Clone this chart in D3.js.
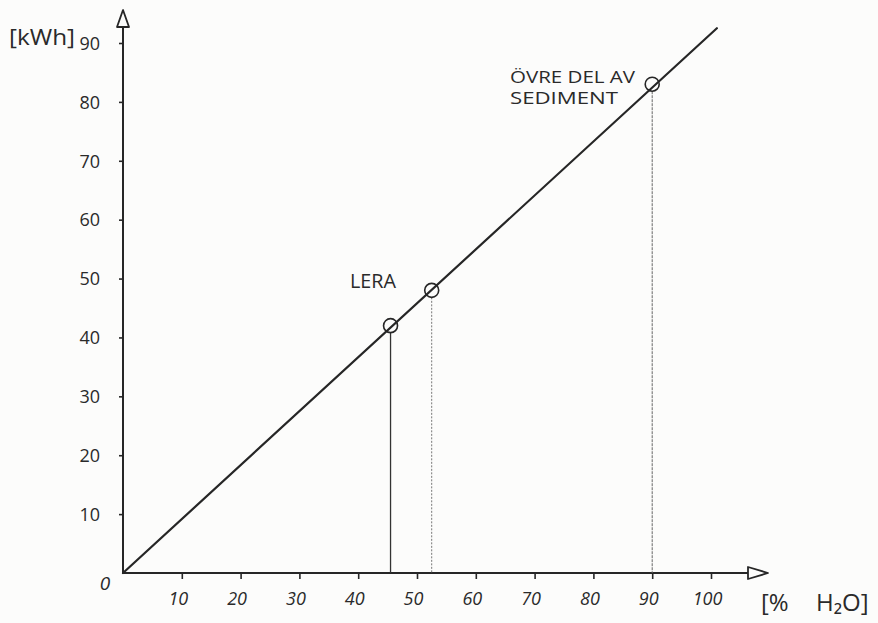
<!DOCTYPE html>
<html><head><meta charset="utf-8">
<script src="https://cdn.jsdelivr.net/npm/d3@7"></script>
<style>
html,body{margin:0;padding:0;background:#fcfcfb;}
svg{display:block;}
text{font-family:"Open Sans","DejaVu Sans",sans-serif;fill:#2a2a2a;}
</style></head>
<body>
<script>
// Data
const xTicks = [10,20,30,40,50,60,70,80,90,100];
const yTicks = [10,20,30,40,50,60,70,80,90];
const lineX = [0, 101];
const lineY = [0, 92.5];
const pointX = [45.5, 52.5, 90];
const pointY = [42, 48, 83];
const dropStyle = ["solid", "dotted", "thin"];
const pointLabels = [["LERA"], [], ["ÖVRE DEL AV", "SEDIMENT"]];
const xAxisTitle = ["[%", "H₂O]"];
const yAxisTitle = "[kWh]";

const W = 878, H = 623;
const svg = d3.select("body").append("svg").attr("width", W).attr("height", H);

const x = d3.scaleLinear().domain([0,100]).range([123, 711]);
const y = d3.scaleLinear().domain([0,90]).range([573, 43]);
const ink = "#262626";

// Y axis ticks
const yAxis = d3.axisLeft(y).tickValues(yTicks).tickSize(4).tickPadding(19).tickFormat(d3.format("d"));
const gy = svg.append("g").attr("transform", `translate(${x(0)},0)`).call(yAxis);
gy.select(".domain").remove();
gy.selectAll(".tick line").attr("stroke", ink).attr("stroke-width", 1.6);
gy.selectAll(".tick text").style("font-size","18px").attr("fill", ink).attr("dy","0.35em");

// X axis ticks
const xAxis = d3.axisBottom(x).tickValues(xTicks).tickSize(6).tickPadding(13).tickFormat(d3.format("d"));
const gx = svg.append("g").attr("transform", `translate(0,${y(0)})`).call(xAxis);
gx.select(".domain").remove();
gx.selectAll(".tick line").attr("stroke", ink).attr("stroke-width", 1.6);
gx.selectAll(".tick text").style("font-size","18px").style("font-style","italic").attr("fill", ink).attr("dx","-4");

// Axis lines with open arrows
svg.append("line").attr("x1", x(0)).attr("y1", y(0)+1).attr("x2", x(0)).attr("y2", 27)
  .attr("stroke", ink).attr("stroke-width", 2);
svg.append("path").attr("d", `M${x(0)},10 L${x(0)-6},27 L${x(0)+6},27 Z`)
  .attr("fill","none").attr("stroke", ink).attr("stroke-width", 1.8).attr("stroke-linejoin","round");
svg.append("line").attr("x1", x(0)-1).attr("y1", y(0)).attr("x2", 748).attr("y2", y(0))
  .attr("stroke", ink).attr("stroke-width", 2.2);
svg.append("path").attr("d", `M768,${y(0)} L748,${y(0)-6} L748,${y(0)+6} Z`)
  .attr("fill","none").attr("stroke", ink).attr("stroke-width", 1.8).attr("stroke-linejoin","round");

// Origin label
svg.append("text").attr("x", x(0)-18).attr("y", y(0)+17).attr("text-anchor","middle")
  .style("font-size","19px").style("font-style","italic").text("0");

// Axis titles
svg.append("text").attr("x", 9).attr("y", 45).style("font-size","21px")
  .attr("textLength", 66).attr("lengthAdjust","spacingAndGlyphs").text(yAxisTitle);
svg.append("text").attr("x", 761).attr("y", 611).style("font-size","24px").text(xAxisTitle[0]);
svg.append("text").attr("x", 816).attr("y", 611).style("font-size","24px").text(xAxisTitle[1]);

// Drop lines
pointX.forEach((px,i) => {
  const l = svg.append("line").attr("x1", x(px)).attr("x2", x(px))
    .attr("y1", y(pointY[i]) + 7).attr("y2", y(0));
  if (dropStyle[i] === "solid") l.attr("stroke", "#333").attr("stroke-width", 1.3);
  else if (dropStyle[i] === "dotted") l.attr("stroke", "#777").attr("stroke-width", 1).attr("stroke-dasharray","2,1.5");
  else l.attr("stroke", "#666").attr("stroke-width", 1).attr("stroke-dasharray","3,1");
});

// Main line
svg.append("line").attr("x1", x(lineX[0])).attr("y1", y(lineY[0]))
  .attr("x2", x(lineX[1])).attr("y2", y(lineY[1]))
  .attr("stroke", ink).attr("stroke-width", 2.2).attr("stroke-linecap","round");

// Circles
svg.selectAll("circle.pt").data(pointX).enter().append("circle")
  .attr("cx", d => x(d)).attr("cy", (d,i) => y(pointY[i])).attr("r", 7)
  .attr("fill","none").attr("stroke", ink).attr("stroke-width", 1.6);

// Point labels
const labelPos = [[350, 288], null, [510, 83]];
const labelLen = [[46], null, [125, 108]];
const labelSize = ["20px", null, "16px"];
pointLabels.forEach((lines,i) => {
  if (!lines.length) return;
  const [lx, ly] = labelPos[i];
  lines.forEach((t,j) => {
    svg.append("text").attr("x", lx).attr("y", ly + j*21)
      .style("font-size", labelSize[i])
      .attr("textLength", labelLen[i][j]).attr("lengthAdjust","spacingAndGlyphs").text(t);
  });
});
</script>
</body></html>
